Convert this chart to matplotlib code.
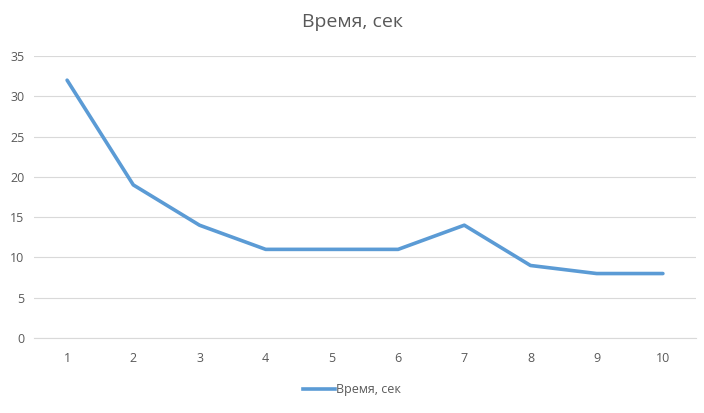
import matplotlib
matplotlib.use('Agg')
import matplotlib.pyplot as plt
from matplotlib.lines import Line2D

# Данные графика
x_vals = [1, 2, 3, 4, 5, 6, 7, 8, 9, 10]
times = [32, 19, 14, 11, 11, 11, 14, 9, 8, 8]
series_name = 'Время, сек'

plt.rcParams['font.family'] = ['Open Sans', 'DejaVu Sans']
text_color = '#595959'
line_color = '#5b9bd5'

fig = plt.figure(figsize=(7.04, 4.13), dpi=100)
ax = fig.add_axes([34 / 704, (413 - 338) / 413, 662 / 704, 282 / 413])

ax.plot(x_vals, times, color=line_color, linewidth=2.6, solid_capstyle='round',
        solid_joinstyle='round', zorder=3)

ax.set_xlim(0.5, 10.5)
ax.set_ylim(0, 35)
ax.set_xticks(x_vals)
ax.set_yticks(range(0, 36, 5))
ax.grid(axis='y', color='#d9d9d9', linewidth=0.8)
ax.set_axisbelow(True)

for side in ['top', 'right', 'left']:
    ax.spines[side].set_visible(False)
ax.spines['bottom'].set_color('#d9d9d9')
ax.spines['bottom'].set_linewidth(0.8)
ax.tick_params(axis='both', length=0, labelsize=9, colors=text_color)
ax.tick_params(axis='x', pad=10)
ax.tick_params(axis='y', pad=7)

fig.text(0.5, (413 - 22) / 413, series_name, ha='center', va='center',
         fontsize=14, color=text_color)

# Легенда внизу
handle = Line2D([], [], color=line_color, linewidth=2.6)
fig.legend(handles=[handle], labels=[series_name], loc='center',
           bbox_to_anchor=(0.5, (413 - 390) / 413), frameon=False,
           fontsize=9, labelcolor=text_color, handlelength=2.6,
           handletextpad=0.1)

fig.savefig('out.png', dpi=100)
